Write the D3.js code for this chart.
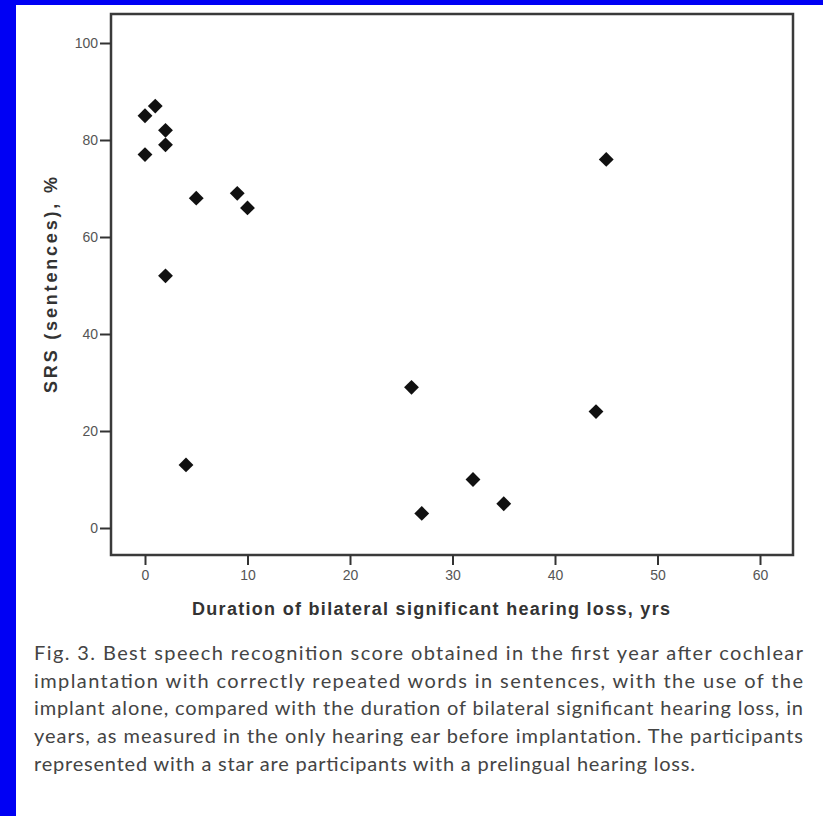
<!DOCTYPE html>
<meta charset="utf-8">
<html>
<body style="margin: 0; background-color: white;">
<script src="https://d3js.org/d3.v7.min.js"></script>

<div id="my_dataviz"></div>

<script>

    // values
    var durations = [0, 1, 2, 2, 0, 5, 9, 10, 2, 4, 26, 27, 32, 35, 44, 45];
    var scores    = [85, 87, 82, 79, 77, 68, 69, 66, 52, 13, 29, 3, 10, 5, 24, 76];
    var xTicks = [0, 10, 20, 30, 40, 50, 60];
    var yTicks = [0, 20, 40, 60, 80, 100];
    var captionLines = [
      "Fig. 3. Best speech recognition score obtained in the first year after cochlear",
      "implantation with correctly repeated words in sentences, with the use of the",
      "implant alone, compared with the duration of bilateral significant hearing loss, in",
      "years, as measured in the only hearing ear before implantation. The participants",
      "represented with a star are participants with a prelingual hearing loss."
    ];

    var width = 823, height = 816;

    var svg = d3.select("#my_dataviz")
      .append("svg")
        .attr("width", width)
        .attr("height", height);

    // blue page edge
    svg.append("rect").attr("x", 0).attr("y", 0).attr("width", 16).attr("height", height).attr("fill", "#0000f4");
    svg.append("rect").attr("x", 0).attr("y", 0).attr("width", width).attr("height", 5).attr("fill", "#0000f4");

    // plot frame
    var frame = {left: 111, right: 793, top: 14, bottom: 555};

    var x = d3.scaleLinear().domain([0, 60]).range([145, 760]);
    var y = d3.scaleLinear().domain([0, 100]).range([528, 43]);

    svg.append("rect")
      .attr("x", frame.left)
      .attr("y", frame.top)
      .attr("width", frame.right - frame.left)
      .attr("height", frame.bottom - frame.top)
      .attr("fill", "none")
      .attr("stroke", "#3a3a3a")
      .attr("stroke-width", 2.5);

    // axes
    var yAxis = svg.append("g")
      .attr("transform", "translate(" + frame.left + ",0)")
      .call(d3.axisLeft(y).tickValues(yTicks).tickSize(11).tickPadding(2));

    var xAxis = svg.append("g")
      .attr("transform", "translate(0," + frame.bottom + ")")
      .call(d3.axisBottom(x).tickValues(xTicks).tickSize(10).tickPadding(5));

    [xAxis, yAxis].forEach(function(g) {
      g.select(".domain").remove();
      g.selectAll(".tick line").attr("stroke", "#333").attr("stroke-width", 2);
      g.selectAll(".tick text")
        .attr("font-family", "Liberation Sans, Arial, sans-serif")
        .attr("font-size", "14px")
        .attr("fill", "#555");
    });

    // axis titles
    svg.append("text")
      .attr("x", 192)
      .attr("y", 615)
      .attr("textLength", 478)
      .attr("lengthAdjust", "spacing")
      .attr("font-family", "Liberation Sans, Arial, sans-serif")
      .attr("font-weight", "bold")
      .attr("font-size", "18px")
      .attr("fill", "#333")
      .text("Duration of bilateral significant hearing loss, yrs");

    svg.append("text")
      .attr("transform", "translate(57,393) rotate(-90)")
      .attr("textLength", 216)
      .attr("lengthAdjust", "spacing")
      .attr("font-family", "Liberation Sans, Arial, sans-serif")
      .attr("font-weight", "bold")
      .attr("font-size", "18px")
      .attr("fill", "#333")
      .text("SRS (sentences), %");

    // diamonds
    var diamond = d3.symbol().type(d3.symbolSquare).size(110);
    svg.selectAll("path.pt")
      .data(durations)
      .enter()
      .append("path")
        .attr("class", "pt")
        .attr("d", diamond)
        .attr("transform", function(d, i) {
          return "translate(" + x(d) + "," + y(scores[i]) + ") rotate(45)";
        })
        .attr("fill", "#111");

    // caption
    svg.selectAll("text.cap")
      .data(captionLines)
      .enter()
      .append("text")
        .attr("class", "cap")
        .attr("x", 34)
        .attr("y", function(d, i) { return 660 + i * 27.7; })
        .attr("textLength", function(d, i) { return i < 4 ? 769 : 661; })
        .attr("lengthAdjust", "spacing")
        .attr("font-family", "Lato, Noto Sans, sans-serif")
        .attr("font-size", "20px")
        .attr("fill", "#444")
        .text(function(d) { return d; });

</script>
</body>
</html>
